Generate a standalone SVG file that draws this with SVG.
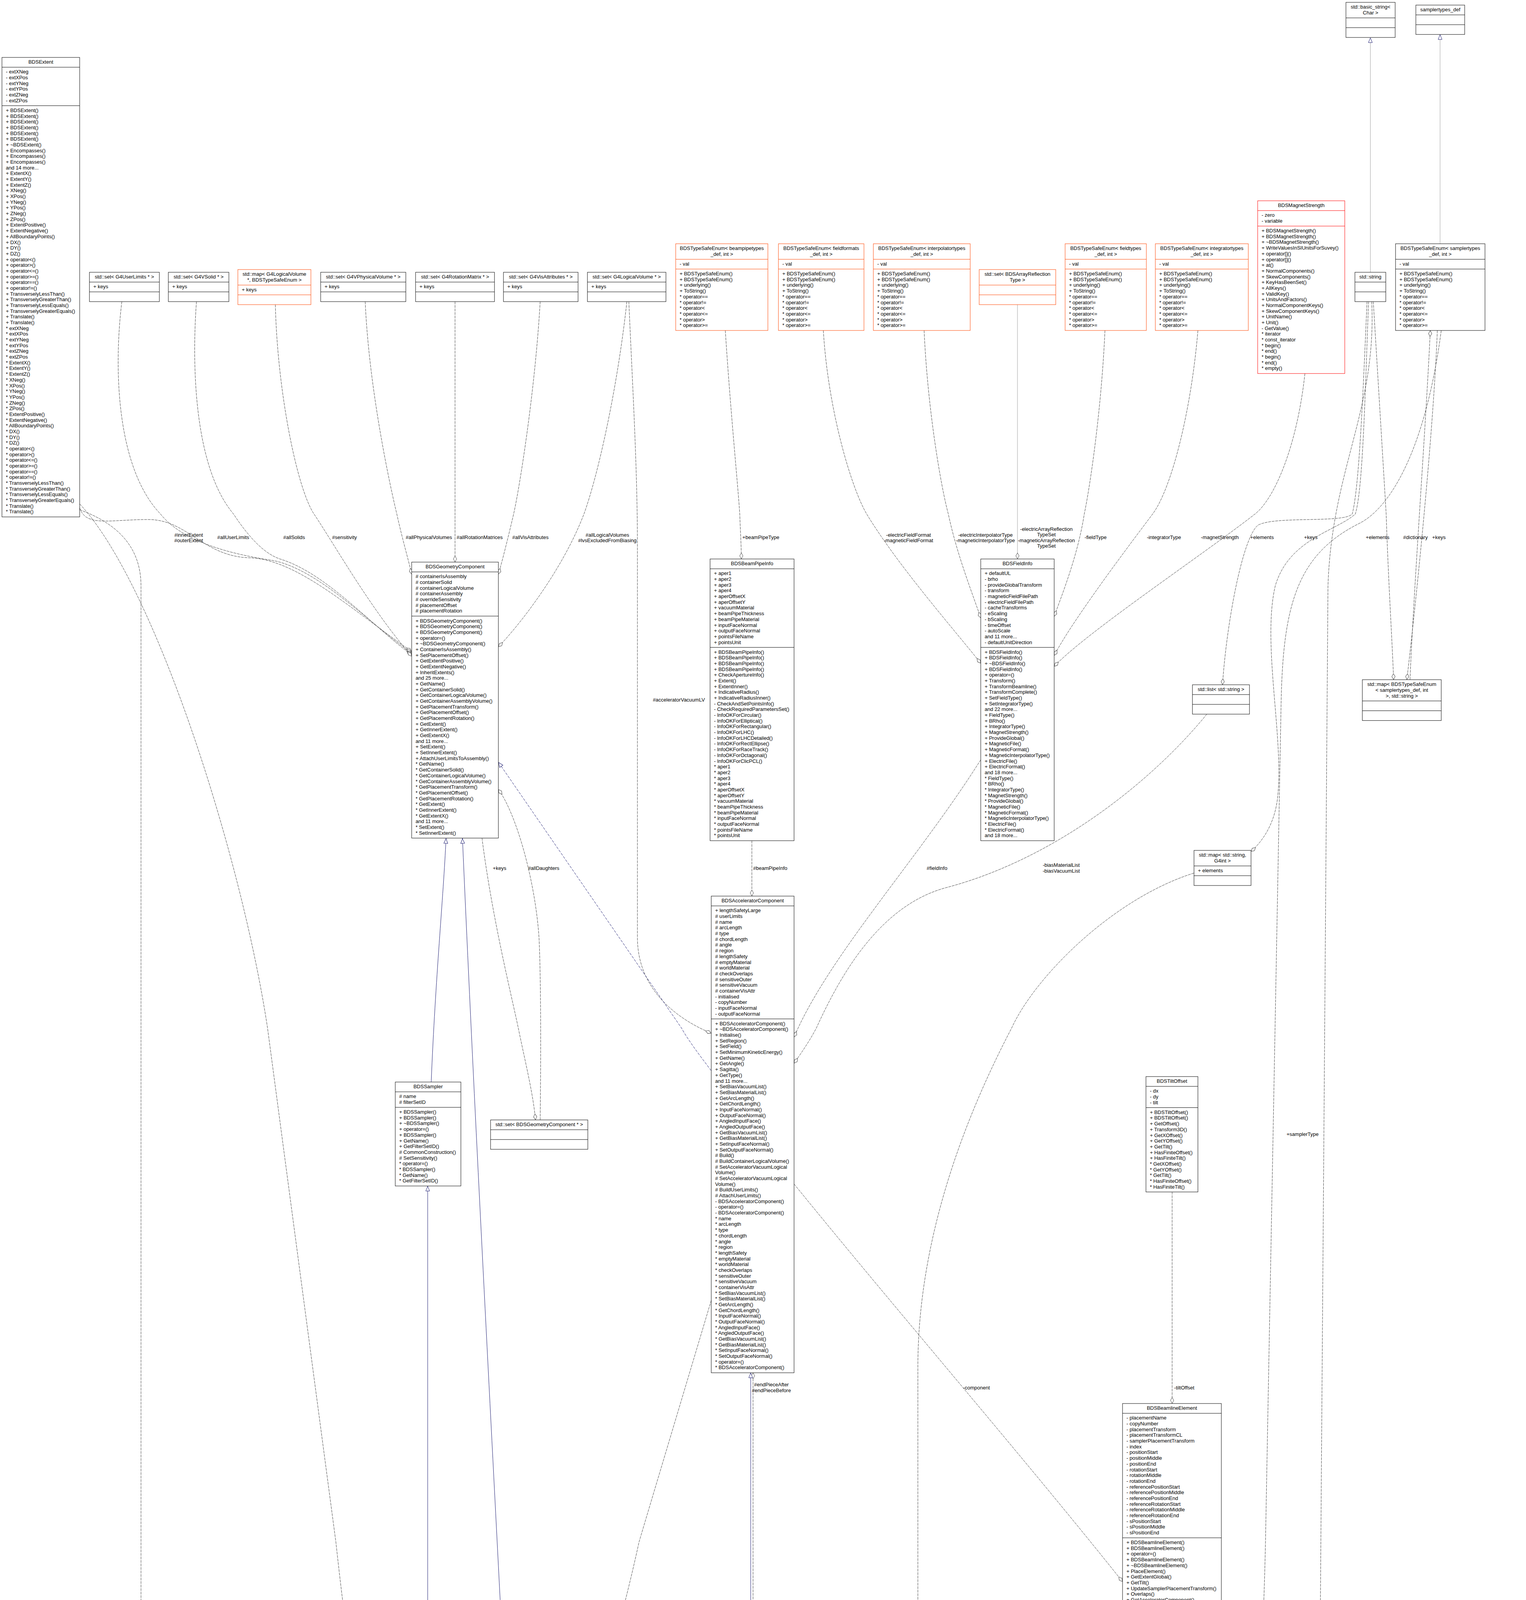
<svg xmlns="http://www.w3.org/2000/svg" width="3907" height="7895" viewBox="0 0 3907 7895">
<style>
text{font-family:"Liberation Sans",Arial,Helvetica,sans-serif;font-size:13px;fill:#000}
.n rect{fill:#fff;stroke:#000;stroke-width:1}
.n path{fill:none;stroke:#000;stroke-width:1}
.o rect,.o path{stroke:#ff4500}
.r rect,.r path{stroke:#ff0000}
.g rect,.g path{stroke:#bfbfbf}
.f rect{fill:#bfbfbf}
.c{text-anchor:middle}
.u{fill:none;stroke:#404040;stroke-width:1;stroke-dasharray:7,2}
.h{fill:none;stroke:#191970;stroke-width:1}
.hd{fill:none;stroke:#191970;stroke-width:1;stroke-dasharray:7,3}
.gy{fill:none;stroke:#a0a0a0;stroke-width:1}
</style>
<defs>
<marker id="d" viewBox="0 0 16 10" refX="16" refY="5" markerWidth="16" markerHeight="10" orient="auto" markerUnits="userSpaceOnUse"><path d="M0.5,5 L8,0.8 L15.5,5 L8,9.2 Z" fill="#fff" stroke="#404040"/></marker>
<marker id="t" viewBox="0 0 14 12" refX="14" refY="6" markerWidth="14" markerHeight="12" orient="auto" markerUnits="userSpaceOnUse"><path d="M1,1 L13,6 L1,11 Z" fill="#fff" stroke="#191970"/></marker>
</defs>
<rect width="3907" height="7895" fill="#fff"/>
<g id="connectors">
<path class="u" marker-end="url(#d)" d="M204,1300 C220,1350 280,1330 380,1330 C480,1330 520,1425 640,1428 C760,1432 900,1560 1054,1668"/>
<path class="u" marker-end="url(#d)" d="M312,772 C290,950 300,1200 411,1316 C470,1390 600,1420 700,1435 C820,1460 950,1600 1054,1672"/>
<path class="u" marker-end="url(#d)" d="M503,772 C490,950 500,1200 598,1316 C640,1380 680,1420 720,1432 C840,1470 960,1610 1054,1676"/>
<path class="u" marker-end="url(#d)" d="M705,780 C710,1000 760,1250 804,1316 C860,1400 950,1560 1054,1680"/>
<path class="u" marker-end="url(#d)" d="M935,772 C945,1000 1000,1250 1016,1316 C1030,1380 1045,1430 1054,1470"/>
<path class="u" marker-end="url(#d)" d="M1165,772 L1165,1439"/>
<path class="u" marker-end="url(#d)" d="M1383,772 C1370,1000 1330,1250 1315,1316 C1300,1380 1285,1440 1276,1470"/>
<path class="u" marker-end="url(#d)" d="M1605,772 C1580,1000 1530,1220 1495,1316 C1440,1460 1330,1600 1276,1656"/>
<path class="u" marker-end="url(#d)" d="M1610,772 C1620,1000 1632,1200 1632,1400 L1632,2400 C1632,2550 1760,2620 1821,2645"/>
<path class="u" marker-end="url(#d)" d="M1857,846 C1870,1050 1890,1250 1894,1316 C1896,1370 1898,1400 1898,1431"/>
<path class="u" marker-end="url(#d)" d="M2108,846 C2120,1050 2180,1250 2219,1316 C2300,1450 2450,1620 2511,1698"/>
<path class="u" marker-end="url(#d)" d="M2366,846 C2375,1050 2410,1250 2428,1316 C2450,1420 2490,1520 2511,1582"/>
<path class="gy" marker-end="url(#d)" d="M2605,780 L2605,1431"/>
<path class="u" marker-end="url(#d)" d="M2829,846 C2820,1050 2790,1250 2776,1316 C2760,1420 2720,1520 2699,1578"/>
<path class="u" marker-end="url(#d)" d="M3067,846 C3050,1050 3000,1250 2951,1316 C2850,1450 2740,1600 2699,1678"/>
<path class="u" marker-end="url(#d)" d="M3341,956 C3320,1150 3260,1280 3213,1316 C3080,1420 2780,1620 2699,1706"/>
<path class="u" marker-end="url(#d)" d="M3500,772 C3490,1000 3480,1250 3462,1316 C3440,1340 3260,1320 3220,1345 C3180,1380 3140,1600 3130,1753"/>
<path class="u" marker-end="url(#d)" d="M3504,772 C3495,1000 3490,1250 3470,1316 C3420,1360 3300,1380 3265,1500 C3230,1650 3290,1900 3270,2050 C3260,2120 3225,2160 3203,2180"/>
<path class="u" marker-end="url(#d)" d="M3516,772 C3530,1000 3545,1250 3549,1316 C3555,1500 3565,1650 3568,1740"/>
<path class="u" marker-end="url(#d)" d="M3610,1740 C3620,1500 3650,1100 3662,846"/>
<path class="u" marker-end="url(#d)" d="M3680,846 C3670,1100 3630,1500 3602,1740"/>
<path class="u" marker-end="url(#d)" d="M3690,846 C3650,1150 3560,1300 3480,1340 C3320,1420 3285,1550 3280,1800 L3240,3948 C3230,4400 3200,4700 3120,4820 C3040,4930 2920,4930 2896,5023"/>
<path class="u" marker-end="url(#d)" d="M3512,772 C3525,1050 3410,1200 3400,1500 L3372,5264 C3365,5700 3360,6150 3320,6230 C3260,6300 2950,6250 2860,6350 C2790,6430 2760,6550 2745,6696"/>
<path class="u" marker-end="url(#d)" d="M3090,1828 C2950,2000 2700,2200 2420,2273 C2250,2320 2150,2500 2090,2632 C2070,2670 2045,2705 2033,2722"/>
<path class="u" marker-end="url(#d)" d="M2511,1945 C2350,2200 2120,2450 2033,2655"/>
<path class="u" marker-end="url(#d)" d="M1925,2152 L1925,2294"/>
<path class="u" marker-end="url(#d)" d="M1234,2145 C1260,2350 1310,2550 1327,2632 C1345,2720 1365,2800 1371,2867"/>
<path class="u" marker-end="url(#d)" d="M1383,2867 C1385,2700 1385,2500 1380,2400 C1370,2250 1320,2080 1276,2021"/>
<path class="u" marker-end="url(#d)" d="M1928,4121 L1928,3514"/>
<path class="u" marker-end="url(#d)" d="M2033,3031 C2300,3360 2620,3730 2874,4049"/>
<path class="u" marker-end="url(#d)" d="M1821,3329 C1740,3600 1650,3900 1636,3948 C1560,4300 1420,4700 1371,4936"/>
<path class="u" marker-end="url(#d)" d="M3001,3051 L3001,3593"/>
<path class="u" marker-end="url(#d)" d="M1084,4299 C1075,4500 1080,4800 1130,4900 C1170,4970 1215,5000 1245,5020"/>
<path class="u" marker-end="url(#d)" d="M204,1290 C400,1500 620,2200 685,2632 L860,3948 C920,4500 1000,4900 1215,5264 C1450,5650 1800,5800 1954,5930 L2428,6229 C2560,6330 2610,6450 2600,6600 C2590,6800 2570,7100 2660,7230 C2740,7320 2880,7345 2958,7348"/>
<path class="u" marker-end="url(#d)" d="M204,1305 C300,1340 361,1400 361,1500 L361,7360 C361,7550 1000,7620 1954,7660 C2400,7680 2700,7690 2850,7692"/>
<path class="u" marker-end="url(#d)" d="M3057,2235 C2850,2300 2650,2500 2590,2632 C2450,2900 2350,3200 2350,3500 L2350,7350 C2350,7550 2600,7650 2850,7682"/>
<path class="u" marker-end="url(#d)" d="M1416,5102 C1800,5120 2250,5180 2400,5260 C2500,5310 2545,5400 2546,5727"/>
<path class="u" marker-end="url(#d)" d="M2525,5846 C2515,6200 2490,6500 2478,6696"/>
<path class="u" marker-end="url(#d)" d="M2542,5846 C2580,6100 2680,6400 2727,6696"/>
<path class="u" marker-end="url(#d)" d="M2462,6786 C2460,7000 2468,7150 2471,7262"/>
<path class="u" marker-end="url(#d)" d="M2720,6786 C2680,7000 2600,7150 2565,7262"/>
<path class="u" marker-end="url(#d)" d="M2607,7423 C2680,7500 2780,7560 2850,7606"/>
<path class="u" marker-end="url(#d)" d="M3212,7198 C3200,7230 3170,7260 3150,7277"/>
<path class="u" marker-end="url(#d)" d="M2960,7519 C2965,7490 2975,7460 2982,7440"/>
<path class="u" marker-end="url(#d)" d="M3057,7440 C3052,7470 3045,7500 3041,7519"/>
<path class="u" marker-end="url(#d)" d="M2985,6082 C2960,6300 2930,6500 2926,6700 C2922,7000 2940,7300 2946,7519"/>
<path class="u" marker-end="url(#d)" d="M3527,6222 C3530,6700 3500,7000 3420,7150 C3320,7350 3150,7550 3077,7618"/>
<path class="u" marker-end="url(#d)" d="M3782,7403 C3700,7520 3400,7620 3077,7688"/>
<path class="u" marker-end="url(#d)" d="M3373,6128 C3360,6200 3345,6250 3341,6286"/>
<path class="u" marker-end="url(#d)" d="M3140,6082 C3160,6180 3190,6270 3203,6321"/>
<path class="u" marker-end="url(#d)" d="M3499,5288 L3495,5354"/>
<path class="u" marker-end="url(#d)" d="M2717,5135 C2760,5300 2880,5480 2960,5594"/>
<path class="u" marker-end="url(#d)" d="M3065,5142 L3065,5493"/>
<path class="u" marker-end="url(#d)" d="M3256,5142 C3230,5300 3180,5420 3154,5493"/>
<path class="u" marker-end="url(#d)" d="M3082,4828 C3080,4900 3075,4980 3071,5052"/>
<path class="u" marker-end="url(#d)" d="M3127,4636 C3170,4800 3230,4950 3253,5052"/>
<path class="u" marker-end="url(#d)" d="M2876,4828 L2876,5023"/>
<path class="u" marker-end="url(#d)" d="M2913,5023 C2930,4950 2965,4880 2980,4828"/>
<path class="h" marker-end="url(#t)" d="M1104,2770 C1115,2500 1135,2300 1142,2146"/>
<path class="h" marker-end="url(#t)" d="M1321,4936 C1300,4400 1230,3200 1184,2146"/>
<path class="hd" marker-end="url(#t)" d="M1821,2741 C1790,2700 1760,2660 1745,2632 L1276,1951"/>
<path class="h" marker-end="url(#t)" d="M1095,4121 L1095,3036"/>
<path class="h" marker-end="url(#t)" d="M1922,4121 L1922,3514"/>
<path class="h" marker-end="url(#t)" d="M3072,7277 L3072,6778"/>
<path class="h" marker-end="url(#t)" d="M3077,7675 C3250,7600 3500,7500 3580,7395"/>
<path class="gy" marker-end="url(#t)" d="M3508.5,697 L3508.5,96"/>
<path class="gy" marker-end="url(#t)" d="M3687,624 L3687,88"/>
<g class="c">
<text x="483" y="1373.5">#innerExtent</text><text x="483" y="1387.5">#outerExtent</text>
<text x="597" y="1380">#allUserLimits</text>
<text x="753" y="1380">#allSolids</text>
<text x="882" y="1380">#sensitivity</text>
<text x="1098" y="1380">#allPhysicalVolumes</text>
<text x="1228" y="1380">#allRotationMatrices</text>
<text x="1358" y="1380">#allVisAttributes</text>
<text x="1555" y="1373.5">#allLogicalVolumes</text><text x="1555" y="1387.5">#lvsExcludedFromBiasing</text>
<text x="1948" y="1380">+beamPipeType</text>
<text x="2326" y="1373.5">-electricFieldFormat</text><text x="2326" y="1387.5">-magneticFieldFormat</text>
<text x="2523" y="1373.5">-electricInterpolatorType</text><text x="2523" y="1387.5">-magneticInterpolatorType</text>
<text x="2679" y="1358.5">-electricArrayReflection</text><text x="2679" y="1372.5">TypeSet</text><text x="2679" y="1387.5">-magneticArrayReflection</text><text x="2679" y="1401.5">TypeSet</text>
<text x="2805" y="1380">-fieldType</text>
<text x="2980" y="1380">-integratorType</text>
<text x="3123" y="1380">-magnetStrength</text>
<text x="3231" y="1380">+elements</text>
<text x="3356" y="1380">+keys</text>
<text x="3527" y="1380">+elements</text>
<text x="3624" y="1380">#dictionary</text>
<text x="3684" y="1380">+keys</text>
<text x="1738" y="1795.5">#acceleratorVacuumLV</text>
<text x="1279" y="2226.5">+keys</text>
<text x="1392" y="2226.5">#allDaughters</text>
<text x="1972" y="2226.5">#beamPipeInfo</text>
<text x="2399" y="2226.5">#fieldInfo</text>
<text x="2717" y="2218.5">-biasMaterialList</text><text x="2717" y="2233.5">-biasVacuumList</text>
<text x="3335" y="2907.5">+samplerType</text>
<text x="1975" y="3548.5">#endPieceAfter</text><text x="1975" y="3563.5">#endPieceBefore</text>
<text x="2500" y="3556.5">-component</text>
<text x="3032" y="3556.5">-tiltOffset</text>
<text x="1771" y="4213.5">-component</text>
<text x="3416" y="4213.5">+keys</text>
<text x="1053" y="4869.5">-worldExtent</text>
<text x="1174" y="4869.5">-sampler</text>
<text x="401" y="5100.5">-worldExtent</text>
<text x="2920" y="4861.5">+finishElement</text><text x="2920" y="4876.5">+startElement</text>
<text x="3013" y="4869.5">-samplerInfo</text>
<text x="3117" y="4869.5">+elements</text>
<text x="3230" y="4869.5">+elements</text>
<text x="2418" y="5324.5">-nameToElementIndex</text>
<text x="2537" y="5324.5">+component</text>
<text x="2828" y="5324.5">-sEnd</text>
<text x="3098" y="5324.5">-beamline</text>
<text x="3243" y="5324.5">-components</text>
<text x="3538" y="5324.5">-ionDefinition</text>
<text x="2536" y="6257.5">+elements</text>
<text x="2664" y="6257.5">+elements</text>
<text x="3214" y="6257.5">-beamline</text>
<text x="3401" y="6257.5">#particleDefinition</text>
<text x="2484" y="7233.5">-byID</text>
<text x="2608" y="7233.5">-byName</text>
<text x="2972" y="7233.5">-linkBeamline</text>
<text x="3198" y="7233.5">-bunch</text>
<text x="3462" y="7233.5">-designParticle</text>
<text x="2738" y="7490.5">-linkRegistry</text>
<text x="3007" y="7490.5">-construction</text>
<text x="3126" y="7490.5">-primaryGeneratorAction</text>
<text x="3740" y="7490.5">-linkIDToBeamlineIndex</text>
</g>
</g>

<g id="BDSExtent" class="n"><rect x="5" y="147" width="199" height="1176.3"/><path d="M5,172.1h199M5,270.6h199"/><text class="c" x="104.5" y="163.3">BDSExtent</text>
<text x="15" y="188.4"><tspan x="15">- extXNeg</tspan><tspan x="15" dy="14.68">- extXPos</tspan><tspan x="15" dy="14.68">- extYNeg</tspan><tspan x="15" dy="14.68">- extYPos</tspan><tspan x="15" dy="14.68">- extZNeg</tspan><tspan x="15" dy="14.68">- extZPos</tspan></text>
<text x="15" y="286.9"><tspan x="15">+ BDSExtent()</tspan><tspan x="15" dy="14.68">+ BDSExtent()</tspan><tspan x="15" dy="14.68">+ BDSExtent()</tspan><tspan x="15" dy="14.68">+ BDSExtent()</tspan><tspan x="15" dy="14.68">+ BDSExtent()</tspan><tspan x="15" dy="14.68">+ BDSExtent()</tspan><tspan x="15" dy="14.68">+ ~BDSExtent()</tspan><tspan x="15" dy="14.68">+ Encompasses()</tspan><tspan x="15" dy="14.68">+ Encompasses()</tspan><tspan x="15" dy="14.68">+ Encompasses()</tspan><tspan x="15" dy="14.68">and 14 more...</tspan><tspan x="15" dy="14.68">+ ExtentX()</tspan><tspan x="15" dy="14.68">+ ExtentY()</tspan><tspan x="15" dy="14.68">+ ExtentZ()</tspan><tspan x="15" dy="14.68">+ XNeg()</tspan><tspan x="15" dy="14.68">+ XPos()</tspan><tspan x="15" dy="14.68">+ YNeg()</tspan><tspan x="15" dy="14.68">+ YPos()</tspan><tspan x="15" dy="14.68">+ ZNeg()</tspan><tspan x="15" dy="14.68">+ ZPos()</tspan><tspan x="15" dy="14.68">+ ExtentPositive()</tspan><tspan x="15" dy="14.68">+ ExtentNegative()</tspan><tspan x="15" dy="14.68">+ AllBoundaryPoints()</tspan><tspan x="15" dy="14.68">+ DX()</tspan><tspan x="15" dy="14.68">+ DY()</tspan><tspan x="15" dy="14.68">+ DZ()</tspan><tspan x="15" dy="14.68">+ operator&lt;()</tspan><tspan x="15" dy="14.68">+ operator&gt;()</tspan><tspan x="15" dy="14.68">+ operator&lt;=()</tspan><tspan x="15" dy="14.68">+ operator&gt;=()</tspan><tspan x="15" dy="14.68">+ operator==()</tspan><tspan x="15" dy="14.68">+ operator!=()</tspan><tspan x="15" dy="14.68">+ TransverselyLessThan()</tspan><tspan x="15" dy="14.68">+ TransverselyGreaterThan()</tspan><tspan x="15" dy="14.68">+ TransverselyLessEquals()</tspan><tspan x="15" dy="14.68">+ TransverselyGreaterEquals()</tspan><tspan x="15" dy="14.68">+ Translate()</tspan><tspan x="15" dy="14.68">+ Translate()</tspan><tspan x="15" dy="14.68">* extXNeg</tspan><tspan x="15" dy="14.68">* extXPos</tspan><tspan x="15" dy="14.68">* extYNeg</tspan><tspan x="15" dy="14.68">* extYPos</tspan><tspan x="15" dy="14.68">* extZNeg</tspan><tspan x="15" dy="14.68">* extZPos</tspan><tspan x="15" dy="14.68">* ExtentX()</tspan><tspan x="15" dy="14.68">* ExtentY()</tspan><tspan x="15" dy="14.68">* ExtentZ()</tspan><tspan x="15" dy="14.68">* XNeg()</tspan><tspan x="15" dy="14.68">* XPos()</tspan><tspan x="15" dy="14.68">* YNeg()</tspan><tspan x="15" dy="14.68">* YPos()</tspan><tspan x="15" dy="14.68">* ZNeg()</tspan><tspan x="15" dy="14.68">* ZPos()</tspan><tspan x="15" dy="14.68">* ExtentPositive()</tspan><tspan x="15" dy="14.68">* ExtentNegative()</tspan><tspan x="15" dy="14.68">* AllBoundaryPoints()</tspan><tspan x="15" dy="14.68">* DX()</tspan><tspan x="15" dy="14.68">* DY()</tspan><tspan x="15" dy="14.68">* DZ()</tspan><tspan x="15" dy="14.68">* operator&lt;()</tspan><tspan x="15" dy="14.68">* operator&gt;()</tspan><tspan x="15" dy="14.68">* operator&lt;=()</tspan><tspan x="15" dy="14.68">* operator&gt;=()</tspan><tspan x="15" dy="14.68">* operator==()</tspan><tspan x="15" dy="14.68">* operator!=()</tspan><tspan x="15" dy="14.68">* TransverselyLessThan()</tspan><tspan x="15" dy="14.68">* TransverselyGreaterThan()</tspan><tspan x="15" dy="14.68">* TransverselyLessEquals()</tspan><tspan x="15" dy="14.68">* TransverselyGreaterEquals()</tspan><tspan x="15" dy="14.68">* Translate()</tspan><tspan x="15" dy="14.68">* Translate()</tspan></text></g>

<g id="setUserLimits" class="n"><rect x="229" y="697" width="179" height="75.2"/><path d="M229,722.1h179M229,747.2h179"/><text class="c" x="318.5" y="713.3">std::set&lt; G4UserLimits * &gt;</text><text x="239" y="738.4">+ keys</text></g>
<g id="setVSolid" class="n"><rect x="431" y="697" width="155" height="75.2"/><path d="M431,722.1h155M431,747.2h155"/><text class="c" x="508.5" y="713.3">std::set&lt; G4VSolid * &gt;</text><text x="441" y="738.4">+ keys</text></g>
<g id="mapLVEnum" class="n o"><rect x="609" y="690" width="187" height="89.9"/><path d="M609,729.8h187M609,754.8h187"/><text class="c" x="702.5" y="706.3">std::map&lt; G4LogicalVolume</text><text class="c" x="702.5" y="721">*, BDSTypeSafeEnum &gt;</text><text x="619" y="746.1">+ keys</text></g>
<g id="setPV" class="n"><rect x="821" y="697" width="218" height="75.2"/><path d="M821,722.1h218M821,747.2h218"/><text class="c" x="930" y="713.3">std::set&lt; G4VPhysicalVolume * &gt;</text><text x="831" y="738.4">+ keys</text></g>
<g id="setRot" class="n"><rect x="1064" y="697" width="202" height="75.2"/><path d="M1064,722.1h202M1064,747.2h202"/><text class="c" x="1165" y="713.3">std::set&lt; G4RotationMatrix * &gt;</text><text x="1074" y="738.4">+ keys</text></g>
<g id="setVis" class="n"><rect x="1289" y="697" width="191" height="75.2"/><path d="M1289,722.1h191M1289,747.2h191"/><text class="c" x="1384.5" y="713.3">std::set&lt; G4VisAttributes * &gt;</text><text x="1299" y="738.4">+ keys</text></g>
<g id="setLV" class="n"><rect x="1504" y="697" width="201" height="75.2"/><path d="M1504,722.1h201M1504,747.2h201"/><text class="c" x="1604.5" y="713.3">std::set&lt; G4LogicalVolume * &gt;</text><text x="1514" y="738.4">+ keys</text></g>

<g id="enumBeampipe" class="n o"><rect x="1730" y="624" width="236" height="222"/><path d="M1730,663.8h236M1730,688.8h236"/><text class="c" x="1848" y="640.3">BDSTypeSafeEnum&lt; beampipetypes</text><text class="c" x="1848" y="655">_def, int &gt;</text><text x="1740" y="680.1">- val</text>
<text x="1740" y="705.1"><tspan x="1740">+ BDSTypeSafeEnum()</tspan><tspan x="1740" dy="14.68">+ BDSTypeSafeEnum()</tspan><tspan x="1740" dy="14.68">+ underlying()</tspan><tspan x="1740" dy="14.68">+ ToString()</tspan><tspan x="1740" dy="14.68">* operator==</tspan><tspan x="1740" dy="14.68">* operator!=</tspan><tspan x="1740" dy="14.68">* operator&lt;</tspan><tspan x="1740" dy="14.68">* operator&lt;=</tspan><tspan x="1740" dy="14.68">* operator&gt;</tspan><tspan x="1740" dy="14.68">* operator&gt;=</tspan></text></g>
<g id="enumFieldformats" class="n o"><rect x="1993" y="624" width="219" height="222"/><path d="M1993,663.8h219M1993,688.8h219"/><text class="c" x="2102.5" y="640.3">BDSTypeSafeEnum&lt; fieldformats</text><text class="c" x="2102.5" y="655">_def, int &gt;</text><text x="2003" y="680.1">- val</text>
<text x="2003" y="705.1"><tspan x="2003">+ BDSTypeSafeEnum()</tspan><tspan x="2003" dy="14.68">+ BDSTypeSafeEnum()</tspan><tspan x="2003" dy="14.68">+ underlying()</tspan><tspan x="2003" dy="14.68">+ ToString()</tspan><tspan x="2003" dy="14.68">* operator==</tspan><tspan x="2003" dy="14.68">* operator!=</tspan><tspan x="2003" dy="14.68">* operator&lt;</tspan><tspan x="2003" dy="14.68">* operator&lt;=</tspan><tspan x="2003" dy="14.68">* operator&gt;</tspan><tspan x="2003" dy="14.68">* operator&gt;=</tspan></text></g>
<g id="enumInterpolator" class="n o"><rect x="2236" y="624" width="248" height="222"/><path d="M2236,663.8h248M2236,688.8h248"/><text class="c" x="2360" y="640.3">BDSTypeSafeEnum&lt; interpolatortypes</text><text class="c" x="2360" y="655">_def, int &gt;</text><text x="2246" y="680.1">- val</text>
<text x="2246" y="705.1"><tspan x="2246">+ BDSTypeSafeEnum()</tspan><tspan x="2246" dy="14.68">+ BDSTypeSafeEnum()</tspan><tspan x="2246" dy="14.68">+ underlying()</tspan><tspan x="2246" dy="14.68">+ ToString()</tspan><tspan x="2246" dy="14.68">* operator==</tspan><tspan x="2246" dy="14.68">* operator!=</tspan><tspan x="2246" dy="14.68">* operator&lt;</tspan><tspan x="2246" dy="14.68">* operator&lt;=</tspan><tspan x="2246" dy="14.68">* operator&gt;</tspan><tspan x="2246" dy="14.68">* operator&gt;=</tspan></text></g>
<g id="setArrayRefl" class="n o"><rect x="2507" y="690" width="196" height="89.9"/><path d="M2507,729.8h196M2507,754.8h196"/><text class="c" x="2605" y="706.3">std::set&lt; BDSArrayReflection</text><text class="c" x="2605" y="721">Type &gt;</text></g>
<g id="enumFieldtypes" class="n o"><rect x="2727" y="624" width="208" height="222"/><path d="M2727,663.8h208M2727,688.8h208"/><text class="c" x="2831" y="640.3">BDSTypeSafeEnum&lt; fieldtypes</text><text class="c" x="2831" y="655">_def, int &gt;</text><text x="2737" y="680.1">- val</text>
<text x="2737" y="705.1"><tspan x="2737">+ BDSTypeSafeEnum()</tspan><tspan x="2737" dy="14.68">+ BDSTypeSafeEnum()</tspan><tspan x="2737" dy="14.68">+ underlying()</tspan><tspan x="2737" dy="14.68">+ ToString()</tspan><tspan x="2737" dy="14.68">* operator==</tspan><tspan x="2737" dy="14.68">* operator!=</tspan><tspan x="2737" dy="14.68">* operator&lt;</tspan><tspan x="2737" dy="14.68">* operator&lt;=</tspan><tspan x="2737" dy="14.68">* operator&gt;</tspan><tspan x="2737" dy="14.68">* operator&gt;=</tspan></text></g>
<g id="enumIntegrator" class="n o"><rect x="2958" y="624" width="238" height="222"/><path d="M2958,663.8h238M2958,688.8h238"/><text class="c" x="3077" y="640.3">BDSTypeSafeEnum&lt; integratortypes</text><text class="c" x="3077" y="655">_def, int &gt;</text><text x="2968" y="680.1">- val</text>
<text x="2968" y="705.1"><tspan x="2968">+ BDSTypeSafeEnum()</tspan><tspan x="2968" dy="14.68">+ BDSTypeSafeEnum()</tspan><tspan x="2968" dy="14.68">+ underlying()</tspan><tspan x="2968" dy="14.68">+ ToString()</tspan><tspan x="2968" dy="14.68">* operator==</tspan><tspan x="2968" dy="14.68">* operator!=</tspan><tspan x="2968" dy="14.68">* operator&lt;</tspan><tspan x="2968" dy="14.68">* operator&lt;=</tspan><tspan x="2968" dy="14.68">* operator&gt;</tspan><tspan x="2968" dy="14.68">* operator&gt;=</tspan></text></g>
<g id="BDSMagnetStrength" class="n r"><rect x="3220" y="514" width="223" height="442.2"/><path d="M3220,539.1h223M3220,578.8h223"/><text class="c" x="3331.5" y="530.3">BDSMagnetStrength</text>
<text x="3230" y="555.4"><tspan x="3230">- zero</tspan><tspan x="3230" dy="14.68">- variable</tspan></text>
<text x="3230" y="595.1"><tspan x="3230">+ BDSMagnetStrength()</tspan><tspan x="3230" dy="14.68">+ BDSMagnetStrength()</tspan><tspan x="3230" dy="14.68">+ ~BDSMagnetStrength()</tspan><tspan x="3230" dy="14.68">+ WriteValuesInSIUnitsForSuvey()</tspan><tspan x="3230" dy="14.68">+ operator[]()</tspan><tspan x="3230" dy="14.68">+ operator[]()</tspan><tspan x="3230" dy="14.68">+ at()</tspan><tspan x="3230" dy="14.68">+ NormalComponents()</tspan><tspan x="3230" dy="14.68">+ SkewComponents()</tspan><tspan x="3230" dy="14.68">+ KeyHasBeenSet()</tspan><tspan x="3230" dy="14.68">+ AllKeys()</tspan><tspan x="3230" dy="14.68">+ ValidKey()</tspan><tspan x="3230" dy="14.68">+ UnitsAndFactors()</tspan><tspan x="3230" dy="14.68">+ NormalComponentKeys()</tspan><tspan x="3230" dy="14.68">+ SkewComponentKeys()</tspan><tspan x="3230" dy="14.68">+ UnitName()</tspan><tspan x="3230" dy="14.68">+ Unit()</tspan><tspan x="3230" dy="14.68">- GetValue()</tspan><tspan x="3230" dy="14.68">* iterator</tspan><tspan x="3230" dy="14.68">* const_iterator</tspan><tspan x="3230" dy="14.68">* begin()</tspan><tspan x="3230" dy="14.68">* end()</tspan><tspan x="3230" dy="14.68">* begin()</tspan><tspan x="3230" dy="14.68">* end()</tspan><tspan x="3230" dy="14.68">* empty()</tspan></text></g>
<g id="basicString" class="n"><rect x="3446" y="6" width="126" height="89.9"/><path d="M3446,45.8h126M3446,70.8h126"/><text class="c" x="3509" y="22.3">std::basic_string&lt;</text><text class="c" x="3509" y="37">Char &gt;</text></g>
<g id="samplertypesDef" class="n"><rect x="3625" y="13" width="125" height="75.2"/><path d="M3625,38.1h125M3625,63.2h125"/><text class="c" x="3687.5" y="29.3">samplertypes_def</text></g>
<g id="stdString" class="n"><rect x="3469" y="697" width="79" height="75.2"/><path d="M3469,722.1h79M3469,747.2h79"/><text class="c" x="3508.5" y="713.3">std::string</text></g>
<g id="enumSamplertypes" class="n"><rect x="3573" y="624" width="229" height="222"/><path d="M3573,663.8h229M3573,688.8h229"/><text class="c" x="3687.5" y="640.3">BDSTypeSafeEnum&lt; samplertypes</text><text class="c" x="3687.5" y="655">_def, int &gt;</text><text x="3583" y="680.1">- val</text>
<text x="3583" y="705.1"><tspan x="3583">+ BDSTypeSafeEnum()</tspan><tspan x="3583" dy="14.68">+ BDSTypeSafeEnum()</tspan><tspan x="3583" dy="14.68">+ underlying()</tspan><tspan x="3583" dy="14.68">+ ToString()</tspan><tspan x="3583" dy="14.68">* operator==</tspan><tspan x="3583" dy="14.68">* operator!=</tspan><tspan x="3583" dy="14.68">* operator&lt;</tspan><tspan x="3583" dy="14.68">* operator&lt;=</tspan><tspan x="3583" dy="14.68">* operator&gt;</tspan><tspan x="3583" dy="14.68">* operator&gt;=</tspan></text></g>

<g id="BDSGeometryComponent" class="n"><rect x="1054" y="1439" width="222" height="706.5"/><path d="M1054,1464.1h222M1054,1577.2h222"/><text class="c" x="1165" y="1455.3">BDSGeometryComponent</text>
<text x="1064" y="1480.4"><tspan x="1064"># containerIsAssembly</tspan><tspan x="1064" dy="14.68"># containerSolid</tspan><tspan x="1064" dy="14.68"># containerLogicalVolume</tspan><tspan x="1064" dy="14.68"># containerAssembly</tspan><tspan x="1064" dy="14.68"># overrideSensitivity</tspan><tspan x="1064" dy="14.68"># placementOffset</tspan><tspan x="1064" dy="14.68"># placementRotation</tspan></text>
<text x="1064" y="1593.5"><tspan x="1064">+ BDSGeometryComponent()</tspan><tspan x="1064" dy="14.68">+ BDSGeometryComponent()</tspan><tspan x="1064" dy="14.68">+ BDSGeometryComponent()</tspan><tspan x="1064" dy="14.68">+ operator=()</tspan><tspan x="1064" dy="14.68">+ ~BDSGeometryComponent()</tspan><tspan x="1064" dy="14.68">+ ContainerIsAssembly()</tspan><tspan x="1064" dy="14.68">+ SetPlacementOffset()</tspan><tspan x="1064" dy="14.68">+ GetExtentPositive()</tspan><tspan x="1064" dy="14.68">+ GetExtentNegative()</tspan><tspan x="1064" dy="14.68">+ InheritExtents()</tspan><tspan x="1064" dy="14.68">and 25 more...</tspan><tspan x="1064" dy="14.68">+ GetName()</tspan><tspan x="1064" dy="14.68">+ GetContainerSolid()</tspan><tspan x="1064" dy="14.68">+ GetContainerLogicalVolume()</tspan><tspan x="1064" dy="14.68">+ GetContainerAssemblyVolume()</tspan><tspan x="1064" dy="14.68">+ GetPlacementTransform()</tspan><tspan x="1064" dy="14.68">+ GetPlacementOffset()</tspan><tspan x="1064" dy="14.68">+ GetPlacementRotation()</tspan><tspan x="1064" dy="14.68">+ GetExtent()</tspan><tspan x="1064" dy="14.68">+ GetInnerExtent()</tspan><tspan x="1064" dy="14.68">+ GetExtentX()</tspan><tspan x="1064" dy="14.68">and 11 more...</tspan><tspan x="1064" dy="14.68">+ SetExtent()</tspan><tspan x="1064" dy="14.68">+ SetInnerExtent()</tspan><tspan x="1064" dy="14.68">+ AttachUserLimitsToAssembly()</tspan><tspan x="1064" dy="14.68">* GetName()</tspan><tspan x="1064" dy="14.68">* GetContainerSolid()</tspan><tspan x="1064" dy="14.68">* GetContainerLogicalVolume()</tspan><tspan x="1064" dy="14.68">* GetContainerAssemblyVolume()</tspan><tspan x="1064" dy="14.68">* GetPlacementTransform()</tspan><tspan x="1064" dy="14.68">* GetPlacementOffset()</tspan><tspan x="1064" dy="14.68">* GetPlacementRotation()</tspan><tspan x="1064" dy="14.68">* GetExtent()</tspan><tspan x="1064" dy="14.68">* GetInnerExtent()</tspan><tspan x="1064" dy="14.68">* GetExtentX()</tspan><tspan x="1064" dy="14.68">and 11 more...</tspan><tspan x="1064" dy="14.68">* SetExtent()</tspan><tspan x="1064" dy="14.68">* SetInnerExtent()</tspan></text></g>

<g id="BDSBeamPipeInfo" class="n"><rect x="1818" y="1431" width="215" height="721.2"/><path d="M1818,1456.1h215M1818,1657.3h215"/><text class="c" x="1925.5" y="1447.3">BDSBeamPipeInfo</text>
<text x="1828" y="1472.4"><tspan x="1828">+ aper1</tspan><tspan x="1828" dy="14.68">+ aper2</tspan><tspan x="1828" dy="14.68">+ aper3</tspan><tspan x="1828" dy="14.68">+ aper4</tspan><tspan x="1828" dy="14.68">+ aperOffsetX</tspan><tspan x="1828" dy="14.68">+ aperOffsetY</tspan><tspan x="1828" dy="14.68">+ vacuumMaterial</tspan><tspan x="1828" dy="14.68">+ beamPipeThickness</tspan><tspan x="1828" dy="14.68">+ beamPipeMaterial</tspan><tspan x="1828" dy="14.68">+ inputFaceNormal</tspan><tspan x="1828" dy="14.68">+ outputFaceNormal</tspan><tspan x="1828" dy="14.68">+ pointsFileName</tspan><tspan x="1828" dy="14.68">+ pointsUnit</tspan></text>
<text x="1828" y="1673.6"><tspan x="1828">+ BDSBeamPipeInfo()</tspan><tspan x="1828" dy="14.68">+ BDSBeamPipeInfo()</tspan><tspan x="1828" dy="14.68">+ BDSBeamPipeInfo()</tspan><tspan x="1828" dy="14.68">+ BDSBeamPipeInfo()</tspan><tspan x="1828" dy="14.68">+ CheckApertureInfo()</tspan><tspan x="1828" dy="14.68">+ Extent()</tspan><tspan x="1828" dy="14.68">+ ExtentInner()</tspan><tspan x="1828" dy="14.68">+ IndicativeRadius()</tspan><tspan x="1828" dy="14.68">+ IndicativeRadiusInner()</tspan><tspan x="1828" dy="14.68">- CheckAndSetPointsInfo()</tspan><tspan x="1828" dy="14.68">- CheckRequiredParametersSet()</tspan><tspan x="1828" dy="14.68">- InfoOKForCircular()</tspan><tspan x="1828" dy="14.68">- InfoOKForElliptical()</tspan><tspan x="1828" dy="14.68">- InfoOKForRectangular()</tspan><tspan x="1828" dy="14.68">- InfoOKForLHC()</tspan><tspan x="1828" dy="14.68">- InfoOKForLHCDetailed()</tspan><tspan x="1828" dy="14.68">- InfoOKForRectEllipse()</tspan><tspan x="1828" dy="14.68">- InfoOKForRaceTrack()</tspan><tspan x="1828" dy="14.68">- InfoOKForOctagonal()</tspan><tspan x="1828" dy="14.68">- InfoOKForClicPCL()</tspan><tspan x="1828" dy="14.68">* aper1</tspan><tspan x="1828" dy="14.68">* aper2</tspan><tspan x="1828" dy="14.68">* aper3</tspan><tspan x="1828" dy="14.68">* aper4</tspan><tspan x="1828" dy="14.68">* aperOffsetX</tspan><tspan x="1828" dy="14.68">* aperOffsetY</tspan><tspan x="1828" dy="14.68">* vacuumMaterial</tspan><tspan x="1828" dy="14.68">* beamPipeThickness</tspan><tspan x="1828" dy="14.68">* beamPipeMaterial</tspan><tspan x="1828" dy="14.68">* inputFaceNormal</tspan><tspan x="1828" dy="14.68">* outputFaceNormal</tspan><tspan x="1828" dy="14.68">* pointsFileName</tspan><tspan x="1828" dy="14.68">* pointsUnit</tspan></text></g>

<g id="BDSFieldInfo" class="n"><rect x="2511" y="1431" width="188" height="721.2"/><path d="M2511,1456.1h188M2511,1657.3h188"/><text class="c" x="2605" y="1447.3">BDSFieldInfo</text>
<text x="2521" y="1472.4"><tspan x="2521">+ defaultUL</tspan><tspan x="2521" dy="14.68">- brho</tspan><tspan x="2521" dy="14.68">- provideGlobalTransform</tspan><tspan x="2521" dy="14.68">- transform</tspan><tspan x="2521" dy="14.68">- magneticFieldFilePath</tspan><tspan x="2521" dy="14.68">- electricFieldFilePath</tspan><tspan x="2521" dy="14.68">- cacheTransforms</tspan><tspan x="2521" dy="14.68">- eScaling</tspan><tspan x="2521" dy="14.68">- bScaling</tspan><tspan x="2521" dy="14.68">- timeOffset</tspan><tspan x="2521" dy="14.68">- autoScale</tspan><tspan x="2521" dy="14.68">and 11 more...</tspan><tspan x="2521" dy="14.68">- defaultUnitDirection</tspan></text>
<text x="2521" y="1673.6"><tspan x="2521">+ BDSFieldInfo()</tspan><tspan x="2521" dy="14.68">+ BDSFieldInfo()</tspan><tspan x="2521" dy="14.68">+ ~BDSFieldInfo()</tspan><tspan x="2521" dy="14.68">+ BDSFieldInfo()</tspan><tspan x="2521" dy="14.68">+ operator=()</tspan><tspan x="2521" dy="14.68">+ Transform()</tspan><tspan x="2521" dy="14.68">+ TransformBeamline()</tspan><tspan x="2521" dy="14.68">+ TransformComplete()</tspan><tspan x="2521" dy="14.68">+ SetFieldType()</tspan><tspan x="2521" dy="14.68">+ SetIntegratorType()</tspan><tspan x="2521" dy="14.68">and 22 more...</tspan><tspan x="2521" dy="14.68">+ FieldType()</tspan><tspan x="2521" dy="14.68">+ BRho()</tspan><tspan x="2521" dy="14.68">+ IntegratorType()</tspan><tspan x="2521" dy="14.68">+ MagnetStrength()</tspan><tspan x="2521" dy="14.68">+ ProvideGlobal()</tspan><tspan x="2521" dy="14.68">+ MagneticFile()</tspan><tspan x="2521" dy="14.68">+ MagneticFormat()</tspan><tspan x="2521" dy="14.68">+ MagneticInterpolatorType()</tspan><tspan x="2521" dy="14.68">+ ElectricFile()</tspan><tspan x="2521" dy="14.68">+ ElectricFormat()</tspan><tspan x="2521" dy="14.68">and 18 more...</tspan><tspan x="2521" dy="14.68">* FieldType()</tspan><tspan x="2521" dy="14.68">* BRho()</tspan><tspan x="2521" dy="14.68">* IntegratorType()</tspan><tspan x="2521" dy="14.68">* MagnetStrength()</tspan><tspan x="2521" dy="14.68">* ProvideGlobal()</tspan><tspan x="2521" dy="14.68">* MagneticFile()</tspan><tspan x="2521" dy="14.68">* MagneticFormat()</tspan><tspan x="2521" dy="14.68">* MagneticInterpolatorType()</tspan><tspan x="2521" dy="14.68">* ElectricFile()</tspan><tspan x="2521" dy="14.68">* ElectricFormat()</tspan><tspan x="2521" dy="14.68">and 18 more...</tspan></text></g>

<g id="listString" class="n"><rect x="3053" y="1753" width="146" height="75.2"/><path d="M3053,1778.1h146M3053,1803.2h146"/><text class="c" x="3126" y="1769.3">std::list&lt; std::string &gt;</text></g>
<g id="mapEnumString" class="n"><rect x="3488" y="1740" width="202" height="104.6"/><path d="M3488,1794.4h202M3488,1819.5h202"/><text class="c" x="3589" y="1756.3">std::map&lt; BDSTypeSafeEnum</text><text class="c" x="3589" y="1771">&lt; samplertypes_def, int</text><text class="c" x="3589" y="1785.7">&gt;, std::string &gt;</text></g>
<g id="mapStringInt" class="n"><rect x="3057" y="2177" width="146" height="89.9"/><path d="M3057,2216.8h146M3057,2241.8h146"/><text class="c" x="3130" y="2193.3">std::map&lt; std::string,</text><text class="c" x="3130" y="2208">G4int &gt;</text><text x="3067" y="2233.1">+ elements</text></g>

<g id="BDSAcceleratorComponent" class="n"><rect x="1821" y="2294" width="212" height="1220.3"/><path d="M1821,2319.1h212M1821,2608.4h212"/><text class="c" x="1927" y="2310.3">BDSAcceleratorComponent</text>
<text x="1831" y="2335.4"><tspan x="1831">+ lengthSafetyLarge</tspan><tspan x="1831" dy="14.68"># userLimits</tspan><tspan x="1831" dy="14.68"># name</tspan><tspan x="1831" dy="14.68"># arcLength</tspan><tspan x="1831" dy="14.68"># type</tspan><tspan x="1831" dy="14.68"># chordLength</tspan><tspan x="1831" dy="14.68"># angle</tspan><tspan x="1831" dy="14.68"># region</tspan><tspan x="1831" dy="14.68"># lengthSafety</tspan><tspan x="1831" dy="14.68"># emptyMaterial</tspan><tspan x="1831" dy="14.68"># worldMaterial</tspan><tspan x="1831" dy="14.68"># checkOverlaps</tspan><tspan x="1831" dy="14.68"># sensitiveOuter</tspan><tspan x="1831" dy="14.68"># sensitiveVacuum</tspan><tspan x="1831" dy="14.68"># containerVisAttr</tspan><tspan x="1831" dy="14.68">- initialised</tspan><tspan x="1831" dy="14.68">- copyNumber</tspan><tspan x="1831" dy="14.68">- inputFaceNormal</tspan><tspan x="1831" dy="14.68">- outputFaceNormal</tspan></text>
<text x="1831" y="2624.7"><tspan x="1831">+ BDSAcceleratorComponent()</tspan><tspan x="1831" dy="14.68">+ ~BDSAcceleratorComponent()</tspan><tspan x="1831" dy="14.68">+ Initialise()</tspan><tspan x="1831" dy="14.68">+ SetRegion()</tspan><tspan x="1831" dy="14.68">+ SetField()</tspan><tspan x="1831" dy="14.68">+ SetMinimumKineticEnergy()</tspan><tspan x="1831" dy="14.68">+ GetName()</tspan><tspan x="1831" dy="14.68">+ GetAngle()</tspan><tspan x="1831" dy="14.68">+ Sagitta()</tspan><tspan x="1831" dy="14.68">+ GetType()</tspan><tspan x="1831" dy="14.68">and 11 more...</tspan><tspan x="1831" dy="14.68">+ SetBiasVacuumList()</tspan><tspan x="1831" dy="14.68">+ SetBiasMaterialList()</tspan><tspan x="1831" dy="14.68">+ GetArcLength()</tspan><tspan x="1831" dy="14.68">+ GetChordLength()</tspan><tspan x="1831" dy="14.68">+ InputFaceNormal()</tspan><tspan x="1831" dy="14.68">+ OutputFaceNormal()</tspan><tspan x="1831" dy="14.68">+ AngledInputFace()</tspan><tspan x="1831" dy="14.68">+ AngledOutputFace()</tspan><tspan x="1831" dy="14.68">+ GetBiasVacuumList()</tspan><tspan x="1831" dy="14.68">+ GetBiasMaterialList()</tspan><tspan x="1831" dy="14.68">+ SetInputFaceNormal()</tspan><tspan x="1831" dy="14.68">+ SetOutputFaceNormal()</tspan><tspan x="1831" dy="14.68"># Build()</tspan><tspan x="1831" dy="14.68"># BuildContainerLogicalVolume()</tspan><tspan x="1831" dy="14.68"># SetAcceleratorVacuumLogical</tspan><tspan x="1831" dy="14.68">Volume()</tspan><tspan x="1831" dy="14.68"># SetAcceleratorVacuumLogical</tspan><tspan x="1831" dy="14.68">Volume()</tspan><tspan x="1831" dy="14.68"># BuildUserLimits()</tspan><tspan x="1831" dy="14.68"># AttachUserLimits()</tspan><tspan x="1831" dy="14.68">- BDSAcceleratorComponent()</tspan><tspan x="1831" dy="14.68">- operator=()</tspan><tspan x="1831" dy="14.68">- BDSAcceleratorComponent()</tspan><tspan x="1831" dy="14.68">* name</tspan><tspan x="1831" dy="14.68">* arcLength</tspan><tspan x="1831" dy="14.68">* type</tspan><tspan x="1831" dy="14.68">* chordLength</tspan><tspan x="1831" dy="14.68">* angle</tspan><tspan x="1831" dy="14.68">* region</tspan><tspan x="1831" dy="14.68">* lengthSafety</tspan><tspan x="1831" dy="14.68">* emptyMaterial</tspan><tspan x="1831" dy="14.68">* worldMaterial</tspan><tspan x="1831" dy="14.68">* checkOverlaps</tspan><tspan x="1831" dy="14.68">* sensitiveOuter</tspan><tspan x="1831" dy="14.68">* sensitiveVacuum</tspan><tspan x="1831" dy="14.68">* containerVisAttr</tspan><tspan x="1831" dy="14.68">* SetBiasVacuumList()</tspan><tspan x="1831" dy="14.68">* SetBiasMaterialList()</tspan><tspan x="1831" dy="14.68">* GetArcLength()</tspan><tspan x="1831" dy="14.68">* GetChordLength()</tspan><tspan x="1831" dy="14.68">* InputFaceNormal()</tspan><tspan x="1831" dy="14.68">* OutputFaceNormal()</tspan><tspan x="1831" dy="14.68">* AngledInputFace()</tspan><tspan x="1831" dy="14.68">* AngledOutputFace()</tspan><tspan x="1831" dy="14.68">* GetBiasVacuumList()</tspan><tspan x="1831" dy="14.68">* GetBiasMaterialList()</tspan><tspan x="1831" dy="14.68">* SetInputFaceNormal()</tspan><tspan x="1831" dy="14.68">* SetOutputFaceNormal()</tspan><tspan x="1831" dy="14.68">* operator=()</tspan><tspan x="1831" dy="14.68">* BDSAcceleratorComponent()</tspan></text></g>

<g id="BDSSampler" class="n"><rect x="1012" y="2770" width="168" height="266.1"/><path d="M1012,2795.1h168M1012,2834.8h168"/><text class="c" x="1096" y="2786.3">BDSSampler</text>
<text x="1022" y="2811.4"><tspan x="1022"># name</tspan><tspan x="1022" dy="14.68"># filterSetID</tspan></text>
<text x="1022" y="2851.1"><tspan x="1022">+ BDSSampler()</tspan><tspan x="1022" dy="14.68">+ BDSSampler()</tspan><tspan x="1022" dy="14.68">+ ~BDSSampler()</tspan><tspan x="1022" dy="14.68">+ operator=()</tspan><tspan x="1022" dy="14.68">+ BDSSampler()</tspan><tspan x="1022" dy="14.68">+ GetName()</tspan><tspan x="1022" dy="14.68">+ GetFilterSetID()</tspan><tspan x="1022" dy="14.68"># CommonConstruction()</tspan><tspan x="1022" dy="14.68"># SetSensitivity()</tspan><tspan x="1022" dy="14.68">* operator=()</tspan><tspan x="1022" dy="14.68">* BDSSampler()</tspan><tspan x="1022" dy="14.68">* GetName()</tspan><tspan x="1022" dy="14.68">* GetFilterSetID()</tspan></text></g>
<g id="setGeomComp" class="n"><rect x="1256" y="2867" width="249" height="75.2"/><path d="M1256,2892.1h249M1256,2917.2h249"/><text class="c" x="1380.5" y="2883.3">std::set&lt; BDSGeometryComponent * &gt;</text></g>

<g id="BDSTiltOffset" class="n"><rect x="2934" y="2756" width="133" height="295.4"/><path d="M2934,2781.1h133M2934,2835.5h133"/><text class="c" x="3000.5" y="2772.3">BDSTiltOffset</text>
<text x="2944" y="2797.4"><tspan x="2944">- dx</tspan><tspan x="2944" dy="14.68">- dy</tspan><tspan x="2944" dy="14.68">- tilt</tspan></text>
<text x="2944" y="2851.8"><tspan x="2944">+ BDSTiltOffset()</tspan><tspan x="2944" dy="14.68">+ BDSTiltOffset()</tspan><tspan x="2944" dy="14.68">+ GetOffset()</tspan><tspan x="2944" dy="14.68">+ Transform3D()</tspan><tspan x="2944" dy="14.68">+ GetXOffset()</tspan><tspan x="2944" dy="14.68">+ GetYOffset()</tspan><tspan x="2944" dy="14.68">+ GetTilt()</tspan><tspan x="2944" dy="14.68">+ HasFiniteOffset()</tspan><tspan x="2944" dy="14.68">+ HasFiniteTilt()</tspan><tspan x="2944" dy="14.68">* GetXOffset()</tspan><tspan x="2944" dy="14.68">* GetYOffset()</tspan><tspan x="2944" dy="14.68">* GetTilt()</tspan><tspan x="2944" dy="14.68">* HasFiniteOffset()</tspan><tspan x="2944" dy="14.68">* HasFiniteTilt()</tspan></text></g>

<g id="BDSBeamlineElement" class="n"><rect x="2874" y="3593" width="253" height="1235"/><path d="M2874,3618.1h253M2874,3936.8h253"/><text class="c" x="3000.5" y="3609.3">BDSBeamlineElement</text>
<text x="2884" y="3634.4"><tspan x="2884">- placementName</tspan><tspan x="2884" dy="14.68">- copyNumber</tspan><tspan x="2884" dy="14.68">- placementTransform</tspan><tspan x="2884" dy="14.68">- placementTransformCL</tspan><tspan x="2884" dy="14.68">- samplerPlacementTransform</tspan><tspan x="2884" dy="14.68">- index</tspan><tspan x="2884" dy="14.68">- positionStart</tspan><tspan x="2884" dy="14.68">- positionMiddle</tspan><tspan x="2884" dy="14.68">- positionEnd</tspan><tspan x="2884" dy="14.68">- rotationStart</tspan><tspan x="2884" dy="14.68">- rotationMiddle</tspan><tspan x="2884" dy="14.68">- rotationEnd</tspan><tspan x="2884" dy="14.68">- referencePositionStart</tspan><tspan x="2884" dy="14.68">- referencePositionMiddle</tspan><tspan x="2884" dy="14.68">- referencePositionEnd</tspan><tspan x="2884" dy="14.68">- referenceRotationStart</tspan><tspan x="2884" dy="14.68">- referenceRotationMiddle</tspan><tspan x="2884" dy="14.68">- referenceRotationEnd</tspan><tspan x="2884" dy="14.68">- sPositionStart</tspan><tspan x="2884" dy="14.68">- sPositionMiddle</tspan><tspan x="2884" dy="14.68">- sPositionEnd</tspan></text>
<text x="2884" y="3953.1"><tspan x="2884">+ BDSBeamlineElement()</tspan><tspan x="2884" dy="14.68">+ BDSBeamlineElement()</tspan><tspan x="2884" dy="14.68">+ operator=()</tspan><tspan x="2884" dy="14.68">+ BDSBeamlineElement()</tspan><tspan x="2884" dy="14.68">+ ~BDSBeamlineElement()</tspan><tspan x="2884" dy="14.68">+ PlaceElement()</tspan><tspan x="2884" dy="14.68">+ GetExtentGlobal()</tspan><tspan x="2884" dy="14.68">+ GetTilt()</tspan><tspan x="2884" dy="14.68">+ UpdateSamplerPlacementTransform()</tspan><tspan x="2884" dy="14.68">+ Overlaps()</tspan><tspan x="2884" dy="14.68">+ GetAcceleratorComponent()</tspan><tspan x="2884" dy="14.68">+ GetName()</tspan><tspan x="2884" dy="14.68">+ GetType()</tspan><tspan x="2884" dy="14.68">+ GetArcLength()</tspan><tspan x="2884" dy="14.68">+ GetChordLength()</tspan><tspan x="2884" dy="14.68">+ GetAngle()</tspan><tspan x="2884" dy="14.68">+ GetBeamPipeInfo()</tspan><tspan x="2884" dy="14.68">+ GetExtent()</tspan><tspan x="2884" dy="14.68">+ GetPlacementName()</tspan><tspan x="2884" dy="14.68">+ GetCopyNo()</tspan><tspan x="2884" dy="14.68">and 23 more...</tspan><tspan x="2884" dy="14.68">+ InputFaceNormal()</tspan><tspan x="2884" dy="14.68">+ OutputFaceNormal()</tspan><tspan x="2884" dy="14.68">+ AngledInputFace()</tspan><tspan x="2884" dy="14.68">+ AngledOutputFace()</tspan><tspan x="2884" dy="14.68">+ SetReferencePositionEnd()</tspan><tspan x="2884" dy="14.68">+ SetReferenceRotationEnd()</tspan><tspan x="2884" dy="14.68">+ GetPVsFromAssembly()</tspan><tspan x="2884" dy="14.68">* positionStart</tspan><tspan x="2884" dy="14.68">* positionMiddle</tspan><tspan x="2884" dy="14.68">* positionEnd</tspan><tspan x="2884" dy="14.68">* rotationStart</tspan><tspan x="2884" dy="14.68">* rotationMiddle</tspan><tspan x="2884" dy="14.68">* rotationEnd</tspan><tspan x="2884" dy="14.68">* referencePositionStart</tspan><tspan x="2884" dy="14.68">* referencePositionMiddle</tspan><tspan x="2884" dy="14.68">* referencePositionEnd</tspan><tspan x="2884" dy="14.68">* referenceRotationStart</tspan><tspan x="2884" dy="14.68">* referenceRotationMiddle</tspan><tspan x="2884" dy="14.68">* referenceRotationEnd</tspan><tspan x="2884" dy="14.68">* sPositionStart</tspan><tspan x="2884" dy="14.68">* sPositionMiddle</tspan><tspan x="2884" dy="14.68">* sPositionEnd</tspan><tspan x="2884" dy="14.68">* GetAcceleratorComponent()</tspan><tspan x="2884" dy="14.68">* GetName()</tspan><tspan x="2884" dy="14.68">* GetType()</tspan><tspan x="2884" dy="14.68">* GetArcLength()</tspan><tspan x="2884" dy="14.68">* GetChordLength()</tspan><tspan x="2884" dy="14.68">* GetAngle()</tspan><tspan x="2884" dy="14.68">* GetBeamPipeInfo()</tspan><tspan x="2884" dy="14.68">* GetExtent()</tspan><tspan x="2884" dy="14.68">* GetPlacementName()</tspan><tspan x="2884" dy="14.68">* GetCopyNo()</tspan><tspan x="2884" dy="14.68">and 23 more...</tspan><tspan x="2884" dy="14.68">* InputFaceNormal()</tspan><tspan x="2884" dy="14.68">* OutputFaceNormal()</tspan><tspan x="2884" dy="14.68">* AngledInputFace()</tspan><tspan x="2884" dy="14.68">* AngledOutputFace()</tspan><tspan x="2884" dy="14.68">* SetReferencePositionEnd()</tspan><tspan x="2884" dy="14.68">* SetReferenceRotationEnd()</tspan></text></g>

<g id="BDSSamplerCustom" class="n"><rect x="1008" y="4121" width="172" height="178"/><path d="M1008,4146.1h172M1008,4171.2h172"/><text class="c" x="1094" y="4137.3">BDSSamplerCustom</text><text x="1018" y="4162.4">+ chordLength</text>
<text x="1018" y="4187.5"><tspan x="1018">+ BDSSamplerCustom()</tspan><tspan x="1018" dy="14.68">+ BDSSamplerCustom()</tspan><tspan x="1018" dy="14.68">+ ~BDSSamplerCustom()</tspan><tspan x="1018" dy="14.68">+ operator=()</tspan><tspan x="1018" dy="14.68">+ BDSSamplerCustom()</tspan><tspan x="1018" dy="14.68">+ ChordLength()</tspan><tspan x="1018" dy="14.68">* operator=()</tspan><tspan x="1018" dy="14.68">* BDSSamplerCustom()</tspan></text></g>
<g id="BDSSimpleComponent" class="n"><rect x="1821" y="4121" width="209" height="178"/><path d="M1821,4146.1h209M1821,4171.2h209"/><text class="c" x="1925.5" y="4137.3">BDSSimpleComponent</text>
<text x="1831" y="4187.5"><tspan x="1831">+ BDSSimpleComponent()</tspan><tspan x="1831" dy="14.68">+ BDSSimpleComponent()</tspan><tspan x="1831" dy="14.68">+ ~BDSSimpleComponent()</tspan><tspan x="1831" dy="14.68">+ BDSSimpleComponent()</tspan><tspan x="1831" dy="14.68">+ operator=()</tspan><tspan x="1831" dy="14.68">+ BDSSimpleComponent()</tspan><tspan x="1831" dy="14.68"># Build()</tspan><tspan x="1831" dy="14.68"># BuildContainerLogicalVolume()</tspan></text></g>

<g id="BDSLinkOpaqueBox" class="n"><rect x="1245" y="4936" width="171" height="324.8"/><path d="M1245,4961.1h171M1245,5015.5h171"/><text class="c" x="1330.5" y="4952.3">BDSLinkOpaqueBox</text>
<text x="1255" y="4977.4"><tspan x="1255">- outputSamplerRadius</tspan><tspan x="1255" dy="14.68">- offsetToStart</tspan><tspan x="1255" dy="14.68">- transformToStart</tspan></text>
<text x="1255" y="5031.8"><tspan x="1255">+ BDSLinkOpaqueBox()</tspan><tspan x="1255" dy="14.68">+ ~BDSLinkOpaqueBox()</tspan><tspan x="1255" dy="14.68">+ BDSLinkOpaqueBox()</tspan><tspan x="1255" dy="14.68">+ BDSLinkOpaqueBox()</tspan><tspan x="1255" dy="14.68">+ operator=()</tspan><tspan x="1255" dy="14.68">+ OffsetToStart()</tspan><tspan x="1255" dy="14.68">+ TransformToStart()</tspan><tspan x="1255" dy="14.68">+ PlaceOutputSampler()</tspan><tspan x="1255" dy="14.68">+ ArcLength()</tspan><tspan x="1255" dy="14.68">+ ChordLength()</tspan><tspan x="1255" dy="14.68">+ Angled()</tspan><tspan x="1255" dy="14.68">+ LinkName()</tspan><tspan x="1255" dy="14.68">* ArcLength()</tspan><tspan x="1255" dy="14.68">* ChordLength()</tspan><tspan x="1255" dy="14.68">* Angled()</tspan><tspan x="1255" dy="14.68">* LinkName()</tspan></text></g>

<g id="BDSSamplerInfo" class="n"><rect x="2803" y="5023" width="148" height="148.6"/><path d="M2803,5048.1h148M2803,5087.8h148"/><text class="c" x="2877" y="5039.3">BDSSamplerInfo</text>
<text x="2813" y="5064.4"><tspan x="2813">+ name</tspan><tspan x="2813" dy="14.68">+ pdgSetID</tspan></text>
<text x="2813" y="5104.1"><tspan x="2813">+ BDSSamplerInfo()</tspan><tspan x="2813" dy="14.68">+ BDSSamplerInfo()</tspan><tspan x="2813" dy="14.68">+ ~BDSSamplerInfo()</tspan><tspan x="2813" dy="14.68">+ BDSSamplerInfo()</tspan><tspan x="2813" dy="14.68">+ operator=()</tspan></text></g>
<g id="vectorDouble" class="n"><rect x="2616" y="5060" width="162" height="75.2"/><path d="M2616,5085.1h162M2616,5110.2h162"/><text class="c" x="2697" y="5076.3">std::vector&lt; G4double &gt;</text><text x="2626" y="5101.4">+ elements</text></g>
<g id="vectorElement" class="n"><rect x="2976" y="5052" width="178" height="89.9"/><path d="M2976,5091.8h178M2976,5116.8h178"/><text class="c" x="3065" y="5068.3">std::vector&lt; BDSBeamline</text><text class="c" x="3065" y="5083">Element * &gt;</text></g>
<g id="mapStringElement" class="n"><rect x="3179" y="5052" width="178" height="89.9"/><path d="M3179,5091.8h178M3179,5116.8h178"/><text class="c" x="3268" y="5068.3">std::map&lt; G4String,</text><text class="c" x="3268" y="5083">BDSBeamlineElement * &gt;</text><text x="3189" y="5108.1">+ keys</text></g>

<g id="BDSIonDefinition" class="n"><rect x="3433" y="4905" width="150" height="383.6"/><path d="M3433,4930.1h150M3433,5028.6h150"/><text class="c" x="3508" y="4921.3">BDSIonDefinition</text>
<text x="3443" y="4946.4"><tspan x="3443">- a</tspan><tspan x="3443" dy="14.68">- z</tspan><tspan x="3443" dy="14.68">- charge</tspan><tspan x="3443" dy="14.68">- energy</tspan><tspan x="3443" dy="14.68">- overrideCharge</tspan><tspan x="3443" dy="14.68">- nElectrons</tspan></text>
<text x="3443" y="5044.9"><tspan x="3443">+ BDSIonDefinition()</tspan><tspan x="3443" dy="14.68">+ BDSIonDefinition()</tspan><tspan x="3443" dy="14.68">+ ~BDSIonDefinition()</tspan><tspan x="3443" dy="14.68">+ A()</tspan><tspan x="3443" dy="14.68">+ Z()</tspan><tspan x="3443" dy="14.68">+ Charge()</tspan><tspan x="3443" dy="14.68">+ ExcitationEnergy()</tspan><tspan x="3443" dy="14.68">+ OverrideCharge()</tspan><tspan x="3443" dy="14.68">+ NElectrons()</tspan><tspan x="3443" dy="14.68">- BDSIonDefinition()</tspan><tspan x="3443" dy="14.68">- Parse()</tspan><tspan x="3443" dy="14.68">* A()</tspan><tspan x="3443" dy="14.68">* Z()</tspan><tspan x="3443" dy="14.68">* Charge()</tspan><tspan x="3443" dy="14.68">* ExcitationEnergy()</tspan><tspan x="3443" dy="14.68">* OverrideCharge()</tspan><tspan x="3443" dy="14.68">* NElectrons()</tspan></text></g>

<g id="BDSParticleDefinition" class="n"><rect x="3373" y="5354" width="201" height="867.9"/><path d="M3373,5379.1h201M3373,5565.6h201"/><text class="c" x="3473.5" y="5370.3">BDSParticleDefinition</text>
<text x="3383" y="5395.4"><tspan x="3383">- particle</tspan><tspan x="3383" dy="14.68">- ionPDGID</tspan><tspan x="3383" dy="14.68">- name</tspan><tspan x="3383" dy="14.68">- mass</tspan><tspan x="3383" dy="14.68">- charge</tspan><tspan x="3383" dy="14.68">- totalEnergy</tspan><tspan x="3383" dy="14.68">- kineticEnergy</tspan><tspan x="3383" dy="14.68">- momentum</tspan><tspan x="3383" dy="14.68">- gamma</tspan><tspan x="3383" dy="14.68">- beta</tspan><tspan x="3383" dy="14.68">- brho</tspan><tspan x="3383" dy="14.68">- ffact</tspan></text>
<text x="3383" y="5581.9"><tspan x="3383">+ BDSParticleDefinition()</tspan><tspan x="3383" dy="14.68">+ BDSParticleDefinition()</tspan><tspan x="3383" dy="14.68">+ ~BDSParticleDefinition()</tspan><tspan x="3383" dy="14.68">+ SetEnergies()</tspan><tspan x="3383" dy="14.68">+ UpdateG4ParticleDefinition()</tspan><tspan x="3383" dy="14.68">+ PDGID()</tspan><tspan x="3383" dy="14.68">+ BDSParticleDefinition()</tspan><tspan x="3383" dy="14.68">+ BDSParticleDefinition()</tspan><tspan x="3383" dy="14.68">+ operator=()</tspan><tspan x="3383" dy="14.68">+ ParticleDefinition()</tspan><tspan x="3383" dy="14.68">+ IonDefinition()</tspan><tspan x="3383" dy="14.68">+ Name()</tspan><tspan x="3383" dy="14.68">+ Mass()</tspan><tspan x="3383" dy="14.68">+ Charge()</tspan><tspan x="3383" dy="14.68">+ TotalEnergy()</tspan><tspan x="3383" dy="14.68">+ KineticEnergy()</tspan><tspan x="3383" dy="14.68">+ Momentum()</tspan><tspan x="3383" dy="14.68">+ Gamma()</tspan><tspan x="3383" dy="14.68">+ Beta()</tspan><tspan x="3383" dy="14.68">+ BRho()</tspan><tspan x="3383" dy="14.68">+ FFact()</tspan><tspan x="3383" dy="14.68">+ IsAnIon()</tspan><tspan x="3383" dy="14.68">+ NElectrons()</tspan><tspan x="3383" dy="14.68">- BDSParticleDefinition()</tspan><tspan x="3383" dy="14.68">- CalculateMomentum()</tspan><tspan x="3383" dy="14.68">- CalculateRigidity()</tspan><tspan x="3383" dy="14.68">- CalculateLorentzFactors()</tspan><tspan x="3383" dy="14.68">* BDSParticleDefinition()</tspan><tspan x="3383" dy="14.68">* BDSParticleDefinition()</tspan><tspan x="3383" dy="14.68">* operator=()</tspan><tspan x="3383" dy="14.68">* ParticleDefinition()</tspan><tspan x="3383" dy="14.68">* IonDefinition()</tspan><tspan x="3383" dy="14.68">* Name()</tspan><tspan x="3383" dy="14.68">* Mass()</tspan><tspan x="3383" dy="14.68">* Charge()</tspan><tspan x="3383" dy="14.68">* TotalEnergy()</tspan><tspan x="3383" dy="14.68">* KineticEnergy()</tspan><tspan x="3383" dy="14.68">* Momentum()</tspan><tspan x="3383" dy="14.68">* Gamma()</tspan><tspan x="3383" dy="14.68">* Beta()</tspan><tspan x="3383" dy="14.68">* BRho()</tspan><tspan x="3383" dy="14.68">* FFact()</tspan><tspan x="3383" dy="14.68">* IsAnIon()</tspan><tspan x="3383" dy="14.68">* NElectrons()</tspan></text></g>

<g id="BDSBeamline" class="n"><rect x="2960" y="5493" width="210" height="589.1"/><path d="M2960,5518.1h210M2960,5675.3h210"/><text class="c" x="3065" y="5509.3">BDSBeamline</text>
<text x="2970" y="5534.4"><tspan x="2970">- totalChordLength</tspan><tspan x="2970" dy="14.68">- totalArcLength</tspan><tspan x="2970" dy="14.68">- totalAngle</tspan><tspan x="2970" dy="14.68">- maximumExtentPositive</tspan><tspan x="2970" dy="14.68">- maximumExtentNegative</tspan><tspan x="2970" dy="14.68">- previousReferenceRotationEnd</tspan><tspan x="2970" dy="14.68">- previousReferencePositionEnd</tspan><tspan x="2970" dy="14.68">- previousSPositionEnd</tspan><tspan x="2970" dy="14.68">- transformHasJustBeenApplied</tspan><tspan x="2970" dy="14.68">- paddingLength</tspan></text>
<text x="2970" y="5691.6"><tspan x="2970">+ operator=()</tspan><tspan x="2970" dy="14.68">+ BDSBeamline()</tspan><tspan x="2970" dy="14.68">+ BDSBeamline()</tspan><tspan x="2970" dy="14.68">+ BDSBeamline()</tspan><tspan x="2970" dy="14.68">+ ~BDSBeamline()</tspan><tspan x="2970" dy="14.68">+ AddComponent()</tspan><tspan x="2970" dy="14.68">+ ApplyTransform3D()</tspan><tspan x="2970" dy="14.68">+ AddBeamlineElement()</tspan><tspan x="2970" dy="14.68">+ PrintAllComponents()</tspan><tspan x="2970" dy="14.68">+ UpdateExtents()</tspan><tspan x="2970" dy="14.68">and 31 more...</tspan><tspan x="2970" dy="14.68">+ PaddingLength()</tspan><tspan x="2970" dy="14.68">- AddSingleComponent()</tspan><tspan x="2970" dy="14.68">- RegisterElement()</tspan><tspan x="2970" dy="14.68">* iterator</tspan><tspan x="2970" dy="14.68">* const_iterator</tspan><tspan x="2970" dy="14.68">* reverse_iterator</tspan><tspan x="2970" dy="14.68">* const_reverse_iterator</tspan><tspan x="2970" dy="14.68">* begin()</tspan><tspan x="2970" dy="14.68">* end()</tspan><tspan x="2970" dy="14.68">* begin()</tspan><tspan x="2970" dy="14.68">* end()</tspan><tspan x="2970" dy="14.68">* rbegin()</tspan><tspan x="2970" dy="14.68">* rend()</tspan><tspan x="2970" dy="14.68">* rbegin()</tspan><tspan x="2970" dy="14.68">* rend()</tspan><tspan x="2970" dy="14.68">* empty()</tspan></text></g>

<g id="LinkEntry" class="n g"><rect x="2436" y="5727" width="187" height="119.3"/><path d="M2436,5752.1h187M2436,5821.2h187"/><text class="c" x="2529.5" y="5743.3">BDSLinkRegistry::LinkEntry</text>
<text x="2446" y="5768.4"><tspan x="2446">+ noRotation</tspan><tspan x="2446" dy="14.68">+ transform</tspan><tspan x="2446" dy="14.68">+ transformInverse</tspan><tspan x="2446" dy="14.68">+ id</tspan></text></g>

<g id="BDSBunch" class="n"><rect x="3203" y="6286" width="210" height="912"/><path d="M3203,6311.1h210M3203,6703.2h210"/><text class="c" x="3308" y="6302.3">BDSBunch</text>
<text x="3213" y="6327.4"><tspan x="3213"># name</tspan><tspan x="3213" dy="14.68"># useCurvilinear</tspan><tspan x="3213" dy="14.68"># particleDefinitionHasBeen</tspan><tspan x="3213" dy="14.68">Updated</tspan><tspan x="3213" dy="14.68"># finiteTilt</tspan><tspan x="3213" dy="14.68"># generatePrimariesOnly</tspan><tspan x="3213" dy="14.68"># X0</tspan><tspan x="3213" dy="14.68"># Y0</tspan><tspan x="3213" dy="14.68"># Z0</tspan><tspan x="3213" dy="14.68"># S0</tspan><tspan x="3213" dy="14.68"># T0</tspan><tspan x="3213" dy="14.68"># Xp0</tspan><tspan x="3213" dy="14.68"># Yp0</tspan><tspan x="3213" dy="14.68"># Zp0</tspan><tspan x="3213" dy="14.68"># E0</tspan><tspan x="3213" dy="14.68"># P0</tspan><tspan x="3213" dy="14.68"># tilt</tspan><tspan x="3213" dy="14.68"># sigmaT</tspan><tspan x="3213" dy="14.68"># sigmaP</tspan><tspan x="3213" dy="14.68"># sigmaE</tspan><tspan x="3213" dy="14.68"># sigmaEk</tspan><tspan x="3213" dy="14.68"># finiteSigmaE</tspan><tspan x="3213" dy="14.68"># finiteSigmaT</tspan><tspan x="3213" dy="14.68">- beamlineTransform</tspan><tspan x="3213" dy="14.68">- beamlineS</tspan><tspan x="3213" dy="14.68">- mass2</tspan></text>
<text x="3213" y="6719.5"><tspan x="3213">+ BDSBunch()</tspan><tspan x="3213" dy="14.68">+ BDSBunch()</tspan><tspan x="3213" dy="14.68">+ ~BDSBunch()</tspan><tspan x="3213" dy="14.68">+ SetOptions()</tspan><tspan x="3213" dy="14.68">+ CheckParameters()</tspan><tspan x="3213" dy="14.68">+ Initialise()</tspan><tspan x="3213" dy="14.68">+ GetNextParticle()</tspan><tspan x="3213" dy="14.68">+ ExpectChangingParticleType()</tspan><tspan x="3213" dy="14.68">+ GetNextParticleValid()</tspan><tspan x="3213" dy="14.68">+ BeginOfRunAction()</tspan><tspan x="3213" dy="14.68">and 9 more...</tspan><tspan x="3213" dy="14.68">+ CalculateZp()</tspan><tspan x="3213" dy="14.68">+ SetEmittances()</tspan><tspan x="3213" dy="14.68"># ApplyTransform()</tspan><tspan x="3213" dy="14.68"># ApplyTilt()</tspan><tspan x="3213" dy="14.68"># ApplyCurvilinearTransform()</tspan><tspan x="3213" dy="14.68">* X0</tspan><tspan x="3213" dy="14.68">* Y0</tspan><tspan x="3213" dy="14.68">* Z0</tspan><tspan x="3213" dy="14.68">* S0</tspan><tspan x="3213" dy="14.68">* T0</tspan><tspan x="3213" dy="14.68">* Xp0</tspan><tspan x="3213" dy="14.68">* Yp0</tspan><tspan x="3213" dy="14.68">* Zp0</tspan><tspan x="3213" dy="14.68">* E0</tspan><tspan x="3213" dy="14.68">* P0</tspan><tspan x="3213" dy="14.68">* tilt</tspan><tspan x="3213" dy="14.68">* sigmaT</tspan><tspan x="3213" dy="14.68">* sigmaP</tspan><tspan x="3213" dy="14.68">* sigmaE</tspan><tspan x="3213" dy="14.68">* sigmaEk</tspan><tspan x="3213" dy="14.68">* finiteSigmaE</tspan><tspan x="3213" dy="14.68">* finiteSigmaT</tspan></text></g>

<g id="mapIntEntry" class="n"><rect x="2385" y="6696" width="176" height="89.9"/><path d="M2385,6735.8h176M2385,6760.8h176"/><text class="c" x="2473" y="6712.3">std::map&lt; G4int, BDSLink</text><text class="c" x="2473" y="6727">Registry::LinkEntry &gt;</text><text x="2395" y="6752.1">+ keys</text></g>
<g id="mapStringEntry" class="n"><rect x="2636" y="6696" width="203" height="89.9"/><path d="M2636,6735.8h203M2636,6760.8h203"/><text class="c" x="2737.5" y="6712.3">std::map&lt; std::string,</text><text class="c" x="2737.5" y="6727">BDSLinkRegistry::LinkEntry &gt;</text></g>
<g id="G4VUserPrimaryGeneratorAction" class="n g"><rect x="2963" y="6703" width="216" height="75.2"/><path d="M2963,6728.1h216M2963,6753.2h216"/><text class="c" x="3071" y="6719.3">G4VUserPrimaryGeneratorAction</text></g>

<g id="BDSLinkRegistry" class="n"><rect x="2456" y="7262" width="151" height="192.7"/><path d="M2456,7287.1h151M2456,7312.2h151"/><text class="c" x="2531.5" y="7278.3">BDSLinkRegistry</text>
<text x="2466" y="7328.5"><tspan x="2466">+ BDSLinkRegistry()</tspan><tspan x="2466" dy="14.68">+ ~BDSLinkRegistry()</tspan><tspan x="2466" dy="14.68">+ Register()</tspan><tspan x="2466" dy="14.68">+ Transform()</tspan><tspan x="2466" dy="14.68">+ Transform()</tspan><tspan x="2466" dy="14.68">+ TransformInverse()</tspan><tspan x="2466" dy="14.68">+ TransformInverse()</tspan><tspan x="2466" dy="14.68">+ NoRotation()</tspan><tspan x="2466" dy="14.68">+ NoRotation()</tspan></text></g>

<g id="BDSLinkPrimaryGeneratorAction" class="n f"><rect x="2958" y="7277" width="232" height="163.3"/><path d="M2958,7302.1h232M2958,7356.5h232"/><text class="c" x="3074" y="7293.3">BDSLinkPrimaryGeneratorAction</text>
<text x="2968" y="7318.4"><tspan x="2968">- currentElementIndex</tspan><tspan x="2968" dy="14.68">- debug</tspan><tspan x="2968" dy="14.68">- particleGun</tspan></text>
<text x="2968" y="7372.8"><tspan x="2968">+ BDSLinkPrimaryGeneratorAction()</tspan><tspan x="2968" dy="14.68">+ ~BDSLinkPrimaryGenerator</tspan><tspan x="2968" dy="14.68">Action()</tspan><tspan x="2968" dy="14.68">+ GeneratePrimaries()</tspan><tspan x="2968" dy="14.68">+ SetWorldExtent()</tspan></text></g>

<g id="G4VUserDetectorConstruction" class="n g"><rect x="3511" y="7320" width="200" height="75.2"/><path d="M3511,7345.1h200M3511,7370.2h200"/><text class="c" x="3611" y="7336.3">G4VUserDetectorConstruction</text></g>
<g id="mapIntInt" class="n"><rect x="3736" y="7313" width="167" height="89.9"/><path d="M3736,7338.1h167M3736,7377.8h167"/><text class="c" x="3819.5" y="7329.3">std::map&lt; G4int, G4int &gt;</text>
<text x="3746" y="7354.4"><tspan x="3746">+ keys</tspan><tspan x="3746" dy="14.68">+ elements</tspan></text></g>

<g id="BDSLinkDetectorConstruction" class="n"><rect x="2850" y="7519" width="227" height="368.8"/><path d="M2850,7544.1h227M2850,7613.2h227"/><text class="c" x="2963.5" y="7535.3">BDSLinkDetectorConstruction</text>
<text x="2860" y="7560.4"><tspan x="2860">- worldSolid</tspan><tspan x="2860" dy="14.68">- worldPV</tspan><tspan x="2860" dy="14.68">- crystalBiasing</tspan><tspan x="2860" dy="14.68">- samplerWorldID</tspan></text>
<text x="2860" y="7629.5"><tspan x="2860">+ BDSLinkDetectorConstruction()</tspan><tspan x="2860" dy="14.68">+ ~BDSLinkDetectorConstruction()</tspan><tspan x="2860" dy="14.68">+ Construct()</tspan><tspan x="2860" dy="14.68">+ AddLinkCollimatorJaw()</tspan><tspan x="2860" dy="14.68">+ SetDesignParticle()</tspan><tspan x="2860" dy="14.68">+ SetPrimaryGeneratorAction()</tspan><tspan x="2860" dy="14.68">+ BuildPhysicsBias()</tspan><tspan x="2860" dy="14.68">+ NameToElementIndex()</tspan><tspan x="2860" dy="14.68">+ LinkIDToBeamlineIndex()</tspan><tspan x="2860" dy="14.68">+ NumberOfElements()</tspan><tspan x="2860" dy="14.68">+ SetSamplerWorldID()</tspan><tspan x="2860" dy="14.68">+ LinkBeamline()</tspan><tspan x="2860" dy="14.68">+ WorldExtent()</tspan><tspan x="2860" dy="14.68">+ LinkRegistry()</tspan><tspan x="2860" dy="14.68">- UpdateWorldSolid()</tspan><tspan x="2860" dy="14.68">- PlaceOneComponent()</tspan><tspan x="2860" dy="14.68">* WorldExtent()</tspan><tspan x="2860" dy="14.68">* LinkRegistry()</tspan></text></g>
</svg>
